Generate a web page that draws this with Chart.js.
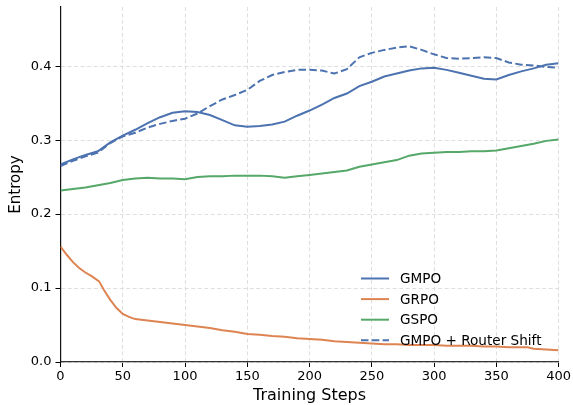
<!DOCTYPE html>
<html>
<head>
<meta charset="utf-8">
<script src="https://cdn.jsdelivr.net/npm/chart.js@4.4.1/dist/chart.umd.min.js"></script>
<style>
  html, body { margin: 0; padding: 0; background: #fff; }
  #wrap { width: 573px; height: 405px; }
</style>
</head>
<body>
<div id="wrap"><canvas id="entropyChart" width="573" height="405"></canvas></div>
<script>
// ---------- data ---------- //
const steps = [0, 10, 20, 30, 40, 50, 60, 70, 80, 90, 100, 110, 120, 130, 140, 150, 160, 170, 180, 190,
  200, 210, 220, 230, 240, 250, 260, 270, 280, 290, 300, 310, 320, 330, 340, 350, 360, 370, 380, 390, 400];

const gmpo = [0.267, 0.274, 0.280, 0.285, 0.297, 0.306, 0.314, 0.323, 0.331, 0.337, 0.339, 0.338, 0.334, 0.327,
  0.320, 0.318, 0.319, 0.321, 0.325, 0.333, 0.340, 0.348, 0.357, 0.363, 0.373, 0.379, 0.386, 0.390, 0.394,
  0.397, 0.398, 0.395, 0.391, 0.387, 0.383, 0.382, 0.388, 0.393, 0.397, 0.402, 0.404];

const gspo = [0.232, 0.234, 0.236, 0.239, 0.242, 0.246, 0.248, 0.249, 0.248, 0.248, 0.247, 0.250, 0.251, 0.251,
  0.252, 0.252, 0.252, 0.251, 0.249, 0.251, 0.253, 0.255, 0.257, 0.259, 0.264, 0.267, 0.270, 0.273, 0.279,
  0.282, 0.283, 0.284, 0.284, 0.285, 0.285, 0.286, 0.289, 0.292, 0.295, 0.299, 0.301];

const gmpoShift = [0.265, 0.272, 0.278, 0.283, 0.296, 0.305, 0.310, 0.317, 0.322, 0.326, 0.329, 0.336, 0.346,
  0.355, 0.361, 0.368, 0.380, 0.388, 0.392, 0.395, 0.395, 0.394, 0.390, 0.396, 0.412, 0.418, 0.422, 0.425,
  0.427, 0.422, 0.416, 0.411, 0.410, 0.411, 0.412, 0.411, 0.405, 0.402, 0.401, 0.399, 0.398];

// GRPO has a kink near step 31, so it gets its own step list
const grpoSteps = [0, 5, 10, 15, 20, 25, 31, 35, 40, 45, 50, 55, 60, 70, 80, 90, 100, 110, 120, 130, 140, 150,
  160, 170, 180, 190, 200, 210, 220, 230, 240, 250, 260, 270, 280, 290, 300, 310, 320, 330, 340, 350, 360,
  370, 375, 380, 390, 400];
const grpo = [0.156, 0.145, 0.135, 0.127, 0.121, 0.116, 0.109, 0.097, 0.084, 0.073, 0.065, 0.061, 0.058, 0.056,
  0.054, 0.052, 0.050, 0.048, 0.046, 0.043, 0.041, 0.038, 0.037, 0.035, 0.034, 0.032, 0.031, 0.030, 0.028,
  0.027, 0.026, 0.025, 0.024, 0.024, 0.023, 0.023, 0.023, 0.022, 0.022, 0.022, 0.021, 0.021, 0.020, 0.020,
  0.020, 0.018, 0.017, 0.016];

const xTicks = [0, 50, 100, 150, 200, 250, 300, 350, 400];
const yTicks = [0.0, 0.1, 0.2, 0.3, 0.4];

const BLUE = '#4C72B0', ORANGE = '#DD8452', GREEN = '#55A868';
const FONT = "'DejaVu Sans', sans-serif";

const toPoints = (xs, ys) => xs.map((x, i) => ({ x: x, y: ys[i] }));

// ---------- legend drawn matplotlib style (no frame) ---------- //
const mplLegend = {
  id: 'mplLegend',
  afterDatasetsDraw(chart) {
    const ctx = chart.ctx;
    const x0 = 361, x1 = 389, tx = 400, y0 = 278.5, gap = 20.6;
    ctx.save();
    ctx.font = "13.6px " + FONT;
    ctx.textBaseline = 'middle';
    ctx.fillStyle = '#000';
    chart.data.datasets.forEach((ds, i) => {
      const y = y0 + i * gap;
      ctx.beginPath();
      ctx.setLineDash(ds.borderDash || []);
      ctx.strokeStyle = ds.borderColor;
      ctx.lineWidth = ds.borderWidth;
      ctx.moveTo(x0, y);
      ctx.lineTo(x1, y);
      ctx.stroke();
      ctx.setLineDash([]);
      ctx.fillText(ds.label, tx, y + 1);
    });
    ctx.restore();
  }
};

const line = (label, data, color, dash) => ({
  label: label,
  data: data,
  borderColor: color,
  backgroundColor: color,
  borderWidth: 2,
  borderDash: dash || [],
  pointRadius: 0,
  tension: 0,
  fill: false
});

new Chart(document.getElementById('entropyChart').getContext('2d'), {
  type: 'line',
  data: {
    datasets: [
      line('GMPO', toPoints(steps, gmpo), BLUE),
      line('GRPO', toPoints(grpoSteps, grpo), ORANGE),
      line('GSPO', toPoints(steps, gspo), GREEN),
      line('GMPO + Router Shift', toPoints(steps, gmpoShift), BLUE, [7.5, 3.3])
    ]
  },
  options: {
    responsive: false,
    devicePixelRatio: 1,
    animation: false,
    layout: { padding: { top: 7, right: 14, left: 0, bottom: 0 } },
    plugins: { legend: { display: false }, tooltip: { enabled: false } },
    scales: {
      x: {
        type: 'linear',
        min: 0,
        max: 400,
        afterFit: s => { s.height = 43; },
        afterBuildTicks: s => { s.ticks = xTicks.map(v => ({ value: v })); },
        ticks: { color: '#000', font: { family: FONT, size: 13 }, padding: 2, maxRotation: 0 },
        grid: { color: '#dedede', lineWidth: 1, tickLength: 5, tickColor: '#000', tickWidth: 1, tickBorderDash: [] },
        border: { display: true, color: '#333', width: 1.2, dash: [4, 2.5] },
        title: { display: true, text: 'Training Steps', color: '#000', font: { family: FONT, size: 16 }, padding: { top: 0, bottom: 0 } }
      },
      y: {
        min: 0,
        max: 0.48,
        afterFit: s => { s.width = 60.5; s.paddingTop = 0; s.paddingBottom = 0; },
        afterBuildTicks: s => { s.ticks = yTicks.map(v => ({ value: v })); },
        ticks: { color: '#000', font: { family: FONT, size: 13, lineHeight: 0.5 }, padding: 4, callback: v => v.toFixed(1) },
        grid: { color: '#dedede', lineWidth: 1, tickLength: 5, tickColor: '#000', tickWidth: 1, tickBorderDash: [] },
        border: { display: true, color: '#111', width: 1.2, dash: [4, 2.5] },
        title: { display: true, text: 'Entropy', color: '#000', font: { family: FONT, size: 15 }, padding: { top: 7, bottom: 0 } }
      }
    }
  },
  plugins: [mplLegend]
});
</script>
</body>
</html>
